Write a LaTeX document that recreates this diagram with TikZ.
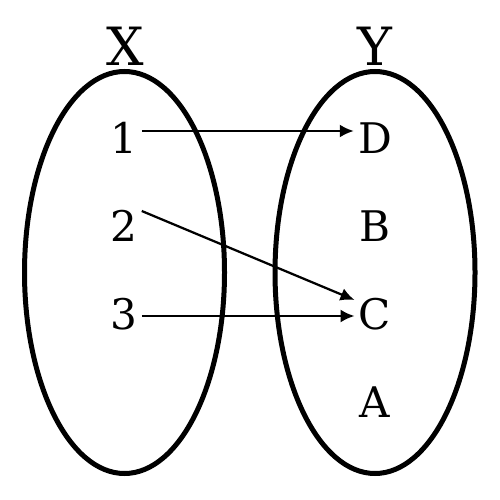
\documentclass[tikz,border=0pt]{standalone}
\usepackage{fontspec}
\setmainfont{DejaVu Serif}
\usetikzlibrary{arrows.meta}

\begin{document}
\begin{tikzpicture}[
  set/.style={line width=0.1cm},
  elem/.style={font=\fontsize{24}{26}\selectfont, inner sep=0.08cm},
  title/.style={font=\fontsize{30}{32}\selectfont, inner sep=0},
  map/.style={line width=0.045cm, -{Latex[length=0.28cm,width=0.26cm]}}
]
\useasboundingbox (0,0) rectangle (10,-10);
\def\h{1.76}

\draw [set] (2.49, -5.45) ellipse [x radius=2.0, y radius=4.02];
\draw [set] (7.5, -5.45) ellipse [x radius=2.0, y radius=4.02];

\node (X) [title] at (2.5, -0.93) {X};
\node (Y) [title] at (7.5, -0.93) {Y};

\node (n1) [elem] at (2.48, -2.76) {1};
\node (n2) [elem] at (2.48, -2.76-\h) {2};
\node (n3) [elem] at (2.48, -2.76-2*\h) {3};

\node (nD) [elem] at (7.5, -2.76) {D};
\node (nB) [elem] at (7.5, -2.76-\h) {B};
\node (nC) [elem] at (7.5, -2.76-2*\h) {C};
\node (nA) [elem] at (7.5, -2.76-3*\h) {A};

\draw [map] ([yshift=0.14cm]n1.east) -- ([yshift=0.14cm]nD.west);
\draw [map] ([yshift=0.3cm]n2.east) -- ([yshift=0.28cm]nC.west);
\draw [map] ([yshift=-0.04cm]n3.east) -- ([yshift=-0.04cm]nC.west);
\end{tikzpicture}
\end{document}
